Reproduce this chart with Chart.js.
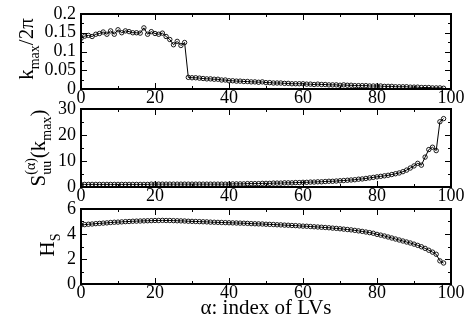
<!DOCTYPE html>
<html>
<head>
<meta charset="utf-8">
<script src="https://cdn.jsdelivr.net/npm/chart.js@4.4.0/dist/chart.umd.min.js"></script>
<style>
  body { margin: 0; background: #fff; }
  #wrap { position: relative; width: 473px; height: 332px; }
  canvas { position: absolute; left: 0; }
</style>
</head>
<body>
<div id="wrap">
  <canvas id="kmaxChart" width="473" height="105" style="top:0"></canvas>
  <canvas id="peakChart" width="473" height="110" style="top:95px"></canvas>
  <canvas id="entropyChart" width="473" height="137" style="top:195px"></canvas>
</div>
<script>
const SERIF = '"Liberation Serif", "Times New Roman", serif';

// LV index axis, shared by all three panels
const xRange = [0, 100];
const xMajor = 20;
const xMinor = 10;

// peak wavenumber of each LV, in units of 2*pi
const kmaxOver2pi = [
  0.135, 0.141, 0.143, 0.140, 0.146, 0.148, 0.152, 0.146, 0.155, 0.146,
  0.158, 0.150, 0.155, 0.153, 0.150, 0.150, 0.149, 0.163, 0.146, 0.153,
  0.148, 0.146, 0.149, 0.140, 0.132, 0.118, 0.127, 0.116, 0.124, 0.031,
  0.030, 0.030, 0.029, 0.028, 0.027, 0.027, 0.026, 0.026, 0.024, 0.024,
  0.022, 0.022, 0.021, 0.021, 0.020, 0.020, 0.019, 0.019, 0.018, 0.019,
  0.017, 0.017, 0.016, 0.016, 0.016, 0.015, 0.015, 0.014, 0.014, 0.014,
  0.014, 0.013, 0.013, 0.012, 0.013, 0.012, 0.012, 0.011, 0.011, 0.011,
  0.010, 0.011, 0.010, 0.010, 0.009, 0.009, 0.009, 0.009, 0.008, 0.008,
  0.008, 0.008, 0.007, 0.007, 0.007, 0.006, 0.006, 0.006, 0.006, 0.005,
  0.005, 0.005, 0.004, 0.004, 0.004, 0.003, 0.003, 0.003, 0.002
];

// spectral power at the peak wavenumber
const peakPower = [
  1.0, 1.0, 1.0, 1.0, 1.0, 1.0, 1.0, 1.0, 1.0, 1.0,
  1.0, 1.0, 1.0, 1.0, 1.0, 1.0, 1.0, 1.0, 1.0, 1.1,
  1.1, 1.1, 1.1, 1.1, 1.1, 1.1, 1.1, 1.1, 1.1, 1.1,
  1.1, 1.1, 1.1, 1.1, 1.1, 1.1, 1.1, 1.1, 1.1, 1.1,
  1.1, 1.2, 1.2, 1.2, 1.2, 1.3, 1.3, 1.3, 1.3, 1.4,
  1.4, 1.4, 1.5, 1.5, 1.5, 1.6, 1.6, 1.6, 1.7, 1.7,
  1.8, 1.8, 1.9, 1.9, 2.0, 2.0, 2.1, 2.2, 2.2, 2.3,
  2.4, 2.5, 2.6, 2.7, 2.8, 3.0, 3.1, 3.3, 3.5, 3.7,
  3.9, 4.1, 4.3, 4.5, 4.8, 5.1, 5.4, 5.9, 6.5, 7.3,
  8.1, 9.1, 8.4, 11.5, 14.4, 15.3, 14.0, 25.1, 26.3
];

// spectral entropy of each LV
const entropyHs = [
  4.72, 4.75, 4.78, 4.80, 4.83, 4.85, 4.87, 4.89, 4.92, 4.94,
  4.95, 4.97, 4.99, 5.00, 5.02, 5.03, 5.04, 5.05, 5.06, 5.07,
  5.08, 5.08, 5.09, 5.08, 5.08, 5.07, 5.06, 5.05, 5.04, 5.02,
  5.01, 5.00, 4.99, 4.98, 4.97, 4.95, 4.94, 4.93, 4.92, 4.91,
  4.90, 4.89, 4.88, 4.87, 4.86, 4.85, 4.83, 4.82, 4.81, 4.80,
  4.78, 4.77, 4.76, 4.74, 4.73, 4.71, 4.70, 4.68, 4.67, 4.65,
  4.63, 4.62, 4.60, 4.58, 4.56, 4.54, 4.52, 4.50, 4.47, 4.45,
  4.42, 4.39, 4.36, 4.33, 4.29, 4.25, 4.21, 4.16, 4.11, 4.06,
  3.97, 3.91, 3.84, 3.76, 3.68, 3.60, 3.52, 3.44, 3.36, 3.28,
  3.19, 3.09, 2.98, 2.85, 2.70, 2.55, 2.38, 1.85, 1.68
];

const toPoints = (values) => values.map((v, i) => ({ x: i, y: v }));

// draws a rotated label made of plain / subscript / superscript pieces
const drawVerticalLabel = (ctx, parts, cx, cy, size) => {
  const small = Math.round(size * 0.68);
  const font = (px) => `${px}px ${SERIF}`;
  const pieceWidth = (p) => {
    if (p.sub !== undefined || p.sup !== undefined) {
      ctx.font = font(small);
      return Math.max(ctx.measureText(p.sub || '').width, ctx.measureText(p.sup || '').width);
    }
    ctx.font = font(size);
    return ctx.measureText(p.t).width;
  };

  ctx.save();
  ctx.translate(cx, cy);
  ctx.rotate(-Math.PI / 2);
  ctx.fillStyle = '#000';
  ctx.textBaseline = 'alphabetic';
  const total = parts.reduce((s, p) => s + pieceWidth(p), 0);
  let pos = -total / 2;
  parts.forEach((p) => {
    const w = pieceWidth(p);
    if (p.sub !== undefined || p.sup !== undefined) {
      ctx.font = font(small);
      if (p.sub) ctx.fillText(p.sub, pos, size * 0.28);
      if (p.sup) ctx.fillText(p.sup, pos, -size * 0.5);
    } else {
      ctx.font = font(size);
      ctx.fillText(p.t, pos, 0);
    }
    pos += w;
  });
  ctx.restore();
};

// box frame with inward ticks on all four sides, plus the y title
const framePlugin = {
  id: 'frame',
  afterDraw(chart, args, opts) {
    const { ctx, chartArea: a, scales: { x, y } } = chart;
    ctx.save();
    ctx.strokeStyle = '#000';
    ctx.lineWidth = 1;
    ctx.beginPath();
    const nx = Math.round((x.max - x.min) / xMinor);
    for (let k = 0; k <= nx; k++) {
      const v = x.min + k * xMinor;
      const px = Math.round(x.getPixelForValue(v)) + 0.5;
      const len = (v % xMajor === 0) ? 6 : 3;
      ctx.moveTo(px, a.bottom); ctx.lineTo(px, a.bottom - len);
      ctx.moveTo(px, a.top); ctx.lineTo(px, a.top + len);
    }
    const ny = Math.round((y.max - y.min) / opts.yMinor);
    const every = Math.round(opts.yMajor / opts.yMinor);
    for (let k = 0; k <= ny; k++) {
      const py = Math.round(y.getPixelForValue(y.min + k * opts.yMinor)) + 0.5;
      const len = (k % every === 0) ? 6 : 3;
      ctx.moveTo(a.left, py); ctx.lineTo(a.left + len, py);
      ctx.moveTo(a.right, py); ctx.lineTo(a.right - len, py);
    }
    ctx.stroke();
    ctx.lineWidth = 2;
    ctx.strokeRect(a.left, a.top, a.right - a.left, a.bottom - a.top);
    ctx.restore();

    drawVerticalLabel(ctx, opts.title, opts.titleX, opts.titleY, opts.titleSize);
  },
};

const makePanel = (canvasId, values, cfg) => {
  const canvas = document.getElementById(canvasId);
  return new Chart(canvas, {
    type: 'line',
    data: {
      datasets: [
        {
          data: toPoints(values),
          borderColor: '#000',
          borderWidth: 1,
          pointRadius: 2.2,
          pointBorderWidth: 0.9,
          pointBorderColor: '#000',
          pointBackgroundColor: 'rgba(0,0,0,0)',
          tension: 0,
          fill: false,
        },
      ],
    },
    options: {
      responsive: false,
      animation: false,
      devicePixelRatio: 1,
      events: [],
      layout: { padding: { top: cfg.top, right: 22, left: 0, bottom: 0 } },
      plugins: {
        legend: { display: false },
        tooltip: { enabled: false },
        frame: cfg.frame,
      },
      scales: {
        x: {
          type: 'linear',
          min: xRange[0],
          max: xRange[1],
          grid: { display: false, drawTicks: false },
          border: { display: false },
          ticks: {
            stepSize: xMajor,
            autoSkip: false,
            maxRotation: 0,
            padding: 0,
            color: '#000',
            font: { family: SERIF, size: 18, lineHeight: 1 },
          },
          title: cfg.xTitle || { display: false },
          afterFit: (s) => { s.height = cfg.xHeight; },
        },
        y: {
          min: cfg.yRange[0],
          max: cfg.yRange[1],
          grid: { display: false, drawTicks: false },
          border: { display: false },
          ticks: {
            stepSize: cfg.frame.yMajor,
            autoSkip: false,
            padding: 5,
            color: '#000',
            font: { family: SERIF, size: 18, lineHeight: 1 },
            callback: (v) => String(+v.toFixed(3)),
          },
          afterFit: (s) => { s.width = 81; },
        },
      },
    },
    plugins: [framePlugin],
  });
};

makePanel('kmaxChart', kmaxOver2pi, {
  top: 13,
  xHeight: 16,
  yRange: [0, 0.2],
  frame: {
    yMajor: 0.05, yMinor: 0.025,
    title: [{ t: 'k' }, { sub: 'max' }, { t: '/2π' }],
    titleX: 33, titleY: 49, titleSize: 21,
  },
});

makePanel('peakChart', peakPower, {
  top: 13,
  xHeight: 18,
  yRange: [0, 30],
  frame: {
    yMajor: 10, yMinor: 5,
    title: [{ t: 'S' }, { sub: 'uu', sup: '(α)' }, { t: '(k' }, { sub: 'max' }, { t: ')' }],
    titleX: 45, titleY: 53, titleSize: 21,
  },
});

makePanel('entropyChart', entropyHs, {
  top: 12,
  xHeight: 48,
  yRange: [0, 6],
  xTitle: {
    display: true,
    text: 'α: index of LVs',
    color: '#000',
    font: { family: SERIF, size: 21, lineHeight: 1 },
    padding: { top: 0, bottom: 13 },
  },
  frame: {
    yMajor: 2, yMinor: 1,
    title: [{ t: 'H' }, { sub: 'S' }],
    titleX: 54, titleY: 50, titleSize: 21,
  },
});
</script>
</body>
</html>
